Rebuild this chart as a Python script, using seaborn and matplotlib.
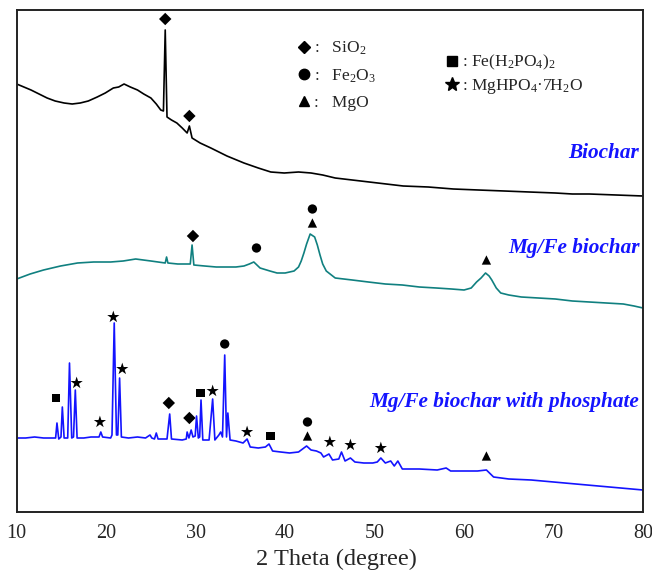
import numpy as np
import pandas as pd
import matplotlib
matplotlib.use("Agg")
import matplotlib.pyplot as plt
from matplotlib.lines import Line2D
import seaborn as sns

# --- XRD patterns (2 theta in degree, intensity in arbitrary units, offset stacked) ---
bio_x = [10.0, 10.8, 11.6, 12.5, 13.4, 14.3, 15.3, 16.2, 17.1, 18.0, 19.0, 19.9, 20.8, 21.4, 22.0,
         22.7, 23.5, 24.2, 25.0, 25.6, 26.1, 26.4, 26.6, 26.8, 27.3, 27.9, 28.5, 29.05, 29.3, 29.6,
         30.5, 31.7, 33.5, 35.4, 37.0, 38.4, 39.9, 41.5, 42.9, 44.2, 45.6, 47.5, 49.4, 51.3, 53.2,
         56.0, 58.8, 61.6, 64.5, 67.3, 70.2, 72.1, 74.0, 77.0, 80.0]
bio_y = [435, 432, 429, 425, 421, 418, 416, 415, 416, 418, 422, 426, 431, 432, 435,
         432, 429, 425, 421, 415, 409, 408, 489, 402, 399, 396, 391, 386, 393, 381,
         376, 371, 363, 356, 351, 347, 346, 347, 346, 344, 341, 339, 337, 335, 333,
         332, 330, 329, 328, 327, 326, 325, 325, 324, 323]

mgfe_x = [10.0, 11.5, 13.0, 14.9, 16.8, 18.6, 20.5, 21.9, 23.3, 25.0, 26.6, 26.75, 26.9, 28.0, 29.4,
          29.6, 29.8, 31.0, 32.3, 33.5, 34.5, 35.4, 36.0, 36.5, 37.2, 38.3, 39.1, 40.0, 41.0, 41.5,
          41.8, 42.1, 42.4, 42.8, 43.3, 43.6, 43.9, 44.2, 44.6, 45.6, 47.5, 49.3, 51.2, 53.1, 55.0,
          56.9, 58.6, 60.0, 60.8, 61.4, 61.9, 62.4, 62.8, 63.1, 63.6, 64.1, 65.0, 66.4, 68.3, 70.2,
          72.1, 74.0, 75.9, 77.8, 79.0, 80.0]
mgfe_y = [240, 245, 249, 253, 256, 257, 257, 258, 260, 258, 256, 262, 256, 255, 255,
          274, 254, 253, 252, 252, 252, 253, 255, 257, 251, 248, 246, 246, 248, 252,
          258, 266, 275, 285, 282, 274, 264, 255, 248, 241, 239, 237, 235, 234, 232,
          231, 230, 229, 231, 237, 241, 246, 243, 239, 231, 226, 224, 222, 221, 220,
          218, 217, 216, 215, 213, 211]

phos_x = [10.0, 11.0, 12.0, 13.0, 14.0, 14.35, 14.5, 14.7, 14.95, 15.1, 15.3, 15.7, 15.9, 16.15, 16.35,
          16.55, 16.75, 17.5, 18.3, 19.2, 19.4, 19.6, 20.5, 20.65, 20.9, 21.15, 21.3, 21.5, 21.7, 22.5,
          23.5, 24.4, 24.9, 25.1, 25.4, 25.6, 25.8, 26.8, 27.1, 27.3, 28.5, 28.95, 29.05, 29.25, 29.5,
          29.7, 29.95, 30.1, 30.3, 30.45, 30.6, 30.8, 31.5, 31.9, 32.15, 32.6, 32.8, 33.0, 33.25, 33.45,
          33.6, 33.85, 34.5, 35.3, 35.75, 36.1, 37.0, 37.8, 38.2, 38.6, 39.5, 40.5, 41.5, 42.4, 42.9,
          43.5, 44.0, 44.3, 44.9, 45.3, 46.0, 46.3, 46.7, 47.3, 47.8, 48.8, 49.8, 50.3, 50.7, 51.2,
          51.8, 52.2, 52.6, 53.1, 55.0, 57.0, 58.0, 58.5, 60.0, 61.5, 62.5, 63.3, 65.0, 67.5, 70.0,
          72.5, 75.0, 77.5, 80.0]
phos_y = [81, 81, 82, 81, 81, 81, 96, 80, 82, 112, 81, 81, 156, 81, 82,
          129, 81, 81, 82, 82, 87, 82, 81, 84, 196, 84, 84, 141, 82, 81,
          82, 81, 84, 81, 80, 86, 80, 80, 105, 80, 79, 80, 87, 81, 89,
          82, 83, 103, 81, 82, 119, 79, 79, 120, 79, 84, 87, 82, 164, 82,
          106, 79, 78, 76, 80, 72, 71, 72, 75, 68, 67, 66, 67, 73, 69,
          68, 66, 62, 65, 59, 60, 67, 58, 61, 57, 56, 56, 57, 61, 56,
          58, 53, 58, 50, 50, 49, 51, 48, 48, 48, 49, 42, 40, 39, 37,
          35, 33, 31, 29]

# --- phase markers (peak position, marker height) ---
sio2_x = [26.6, 29.3, 29.7, 27.0, 29.3]
sio2_y = [500, 403, 283, 116, 101]
fe2o3_x = [36.8, 43.05, 33.25, 42.5]
fe2o3_y = [271, 310, 175, 97]
mgo_x = [43.05, 62.5, 42.5, 62.5]
mgo_y = [296, 259, 83, 63]
fehpo_x = [14.4, 30.5, 38.4]
fehpo_y = [121, 126, 83]
mghpo_x = [16.7, 19.3, 20.8, 21.8, 31.9, 35.75, 45.0, 47.3, 50.7]
mghpo_y = [136, 97, 202, 150, 128, 87, 77, 74, 71]

sample_names = ["Biochar", "Mg/Fe biochar", "Mg/Fe biochar with phosphate"]
sample_label_y = [366, 271, 117]
tick_values = [10, 20, 30, 40, 50, 60, 70, 80]

sns.set_style("white")
plt.rcParams["font.family"] = ["Liberation Serif", "DejaVu Serif"]
plt.rcParams["mathtext.fontset"] = "custom"
plt.rcParams["mathtext.rm"] = "Liberation Serif"
plt.rcParams["mathtext.default"] = "regular"

fig = plt.figure(figsize=(6.52, 5.72), dpi=100)
ax = fig.add_axes([16.7 / 652, 60 / 572, 626.3 / 652, 502.5 / 572])

curves = [(bio_x, bio_y, "#000000"), (mgfe_x, mgfe_y, "#108080"), (phos_x, phos_y, "#1414ff")]
for xs, ys, col in curves:
    df = pd.DataFrame({"theta": xs, "intensity": ys})
    sns.lineplot(data=df, x="theta", y="intensity", color=col, linewidth=1.2,
                 estimator=None, sort=False, ax=ax)

phases = [
    (sio2_x, sio2_y, "D", 40),
    (fe2o3_x, fe2o3_y, "o", 45),
    (mgo_x, mgo_y, "^", 45),
    (fehpo_x, fehpo_y, "s", 40),
    (mghpo_x, mghpo_y, "*", 85),
]
for xs, ys, mk, sz in phases:
    sns.scatterplot(x=xs, y=ys, marker=mk, s=sz, color="black", edgecolor="none",
                    legend=False, ax=ax)

for name, ly in zip(sample_names, sample_label_y):
    ax.text(79.6, ly, name, ha="right", va="center", color="#1414ff",
            fontsize=15.3, fontweight="bold", fontstyle="italic")

def handle(mk, ms):
    return Line2D([], [], marker=mk, color="black", linestyle="None", markersize=ms)

leg_kw = dict(loc="upper left", frameon=False, fontsize=12.5, handlelength=0.8,
              handletextpad=0.15, borderpad=0, borderaxespad=0)
leg1 = ax.legend([handle("D", 6), handle("o", 7.5), handle("^", 7)],
                 [":   SiO$_2$", ":   Fe$_2$O$_3$", ":   MgO"],
                 bbox_to_anchor=(0.4476, 0.940), labelspacing=0.6, **leg_kw)
ax.add_artist(leg1)
ax.legend([handle("s", 6.5), handle("*", 10)],
          [": Fe(H$_2$PO$_4$)$_2$", ": MgHPO$_4$\u00b77H$_2$O"],
          bbox_to_anchor=(0.684, 0.913), labelspacing=0.25, **leg_kw)

ax.set_xlim(10, 80)
ax.set_ylim(7, 509.5)
ax.set_xticks(tick_values)
ax.set_yticks([])
ax.tick_params(axis="x", direction="in", length=6.5, width=1.2, labelsize=14.5, pad=9)
for sp in ax.spines.values():
    sp.set_visible(True)
    sp.set_linewidth(1.4)
    sp.set_color("#222222")
ax.set_xlabel("2 Theta (degree)", fontsize=17.5)
ax.xaxis.set_label_coords(0.51, -0.074)
ax.set_ylabel("")

fig.savefig("out.png", dpi=100)
